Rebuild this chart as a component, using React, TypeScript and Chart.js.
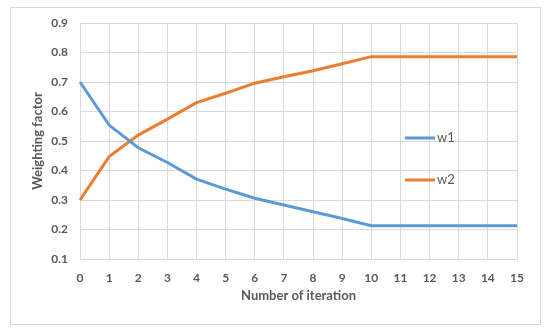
import React, { useEffect, useRef } from "react";
import { Chart, registerables } from "chart.js";

Chart.register(...registerables);

const iterations = ["0","1","2","3","4","5","6","7","8","9","10","11","12","13","14","15"];
const w1 = [0.70, 0.554, 0.477, 0.427, 0.371, 0.337, 0.306, 0.283, 0.26, 0.237, 0.213, 0.213, 0.213, 0.213, 0.213, 0.213];
const w2 = [0.30, 0.447, 0.52, 0.574, 0.63, 0.662, 0.696, 0.718, 0.738, 0.762, 0.786, 0.786, 0.786, 0.786, 0.786, 0.786];
const seriesNames = ["w1", "w2"];
const colors = ["#5B9BD5", "#ED7D31"];

const FONT = "Lato, 'Open Sans', sans-serif";
const TEXT = "#595959";
const GRID = "#d9d9d9";

const legendPlugin = {
  id: "insideLegend",
  afterDraw(chart: any) {
    const ctx = chart.ctx;
    const items = [
      { y: 138, name: seriesNames[0], color: colors[0] },
      { y: 180, name: seriesNames[1], color: colors[1] },
    ];
    ctx.save();
    for (const it of items) {
      ctx.strokeStyle = it.color;
      ctx.lineWidth = 3;
      ctx.beginPath();
      ctx.moveTo(405, it.y);
      ctx.lineTo(435, it.y);
      ctx.stroke();
      ctx.fillStyle = TEXT;
      ctx.font = `13px ${FONT}`;
      ctx.textBaseline = "middle";
      ctx.textAlign = "left";
      ctx.fillText(it.name, 437, it.y);
    }
    ctx.restore();
  },
};

export default function App() {
  const ref = useRef<HTMLCanvasElement | null>(null);
  useEffect(() => {
    if (!ref.current) return;
    const chart = new Chart(ref.current, {
      type: "line",
      data: {
        labels: iterations,
        datasets: [
          { label: seriesNames[0], data: w1, borderColor: colors[0], backgroundColor: colors[0], borderWidth: 3, pointRadius: 0, tension: 0 },
          { label: seriesNames[1], data: w2, borderColor: colors[1], backgroundColor: colors[1], borderWidth: 3, pointRadius: 0, tension: 0 },
        ],
      },
      options: {
        animation: false,
        responsive: false,
        layout: { padding: { left: 30, right: 33, top: 23, bottom: 30 } },
        plugins: { legend: { display: false }, tooltip: { enabled: false } },
        scales: {
          x: {
            type: "category",
            offset: false,
            grid: { color: GRID, drawTicks: false },
            border: { color: GRID },
            ticks: { color: TEXT, font: { family: FONT, size: 12, weight: "bold" }, padding: 12, maxRotation: 0, autoSkip: false },
            title: { display: true, text: "Number of iteration", color: TEXT, font: { family: FONT, size: 13, weight: "bold" }, padding: 0 },
            afterFit: (s: any) => { s.height = 45; },
          },
          y: {
            min: 0.1,
            max: 0.9,
            grid: { color: GRID, drawTicks: false },
            border: { color: GRID },
            ticks: { stepSize: 0.1, color: TEXT, font: { family: FONT, size: 12, weight: "bold" }, padding: 12, callback: (v: any) => Number(v).toFixed(1) },
            title: { display: true, text: "Weighting factor", color: TEXT, font: { family: FONT, size: 13, weight: "bold" }, padding: 0 },
            afterFit: (s: any) => { s.width = 50; },
          },
        },
      },
      plugins: [legendPlugin],
    });
    return () => chart.destroy();
  }, []);
  return (
    <div style={{ position: "fixed", left: 0, top: 0, width: 550, height: 334, background: "#fff" }}>
      <div style={{ position: "absolute", left: 10, top: 7, width: 529, height: 316, border: "1px solid #d9d9d9" }} />
      <canvas ref={ref} width={550} height={334} style={{ position: "absolute", left: 0, top: 0 }} />
    </div>
  );
}
